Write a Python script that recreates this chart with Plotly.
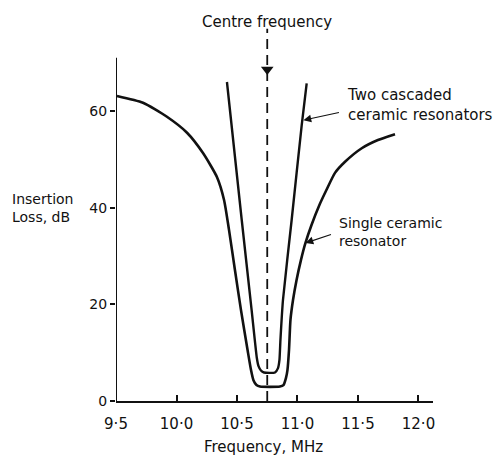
import plotly.graph_objects as go

# Insertion loss of a 10.7 MHz ceramic filter
single_freq = [9.508, 9.723, 9.921, 10.087, 10.219, 10.335, 10.393, 10.434, 10.483, 10.533,
               10.587, 10.616, 10.636, 10.661, 10.690, 10.855, 10.884, 10.905, 10.917, 10.930,
               10.942, 10.963, 10.992, 11.029, 11.066, 11.116, 11.182, 11.240, 11.310, 11.393,
               11.531, 11.665, 11.806]
single_loss = [63.1, 61.7, 58.8, 55.5, 51.3, 46.3, 41.6, 35.4, 27.1, 18.8,
               10.6, 6.4, 4.3, 3.3, 3.0, 3.0, 3.3, 4.8, 6.4, 10.6,
               16.8, 20.9, 25.0, 29.2, 32.7, 36.4, 40.6, 43.7, 47.2, 49.5,
               52.3, 54.0, 55.2]

cascade_freq = [10.417, 10.539, 10.621, 10.664, 10.678, 10.698, 10.723, 10.814, 10.839,
                10.851, 10.859, 10.880, 10.952, 11.035, 11.076]
cascade_loss = [66.0, 37.5, 18.8, 8.9, 7.2, 6.3, 5.9, 5.9, 6.8,
                8.5, 12.6, 20.9, 37.5, 57.1, 65.7]

centre_freq = 10.75

x_ticks = [9.5, 10.0, 10.5, 11.0, 11.5, 12.0]
x_tick_text = ["9·5", "10·0", "10·5", "11·0", "11·5", "12·0"]
y_ticks = [0, 20, 40, 60]
y_tick_text = ["0", "20", "40", "60"]

FONT = "DejaVu Sans"
INK = "#111111"

fig = go.Figure()

fig.add_trace(go.Scatter(x=single_freq, y=single_loss, mode="lines",
                         line=dict(color=INK, width=2.6, shape="spline", smoothing=0.6),
                         hoverinfo="skip"))
fig.add_trace(go.Scatter(x=cascade_freq, y=cascade_loss, mode="lines",
                         line=dict(color=INK, width=2.4, shape="spline", smoothing=0.5),
                         hoverinfo="skip"))

# dashed centre-frequency marker with its arrowhead
fig.add_trace(go.Scatter(x=[centre_freq, centre_freq], y=[0, 77], mode="lines",
                         line=dict(color=INK, width=1.8, dash="10px,6px"),
                         hoverinfo="skip"))
fig.add_trace(go.Scatter(x=[centre_freq], y=[68.6], mode="markers",
                         marker=dict(symbol="triangle-down", size=11, color=INK),
                         hoverinfo="skip"))

# vertical axis line stops short of the top of the plot area
fig.add_shape(type="line", xref="x", yref="y", x0=9.5, x1=9.5, y0=0, y1=71,
              line=dict(color=INK, width=2))

txt = dict(family=FONT, size=14, color=INK)
txt15 = dict(family=FONT, size=15, color=INK)

fig.add_annotation(x=centre_freq, yref="paper", y=1, yshift=2, text="Centre frequency",
                   showarrow=False, xanchor="center", yanchor="middle", font=txt15)
fig.add_annotation(x=11.39, y=61.2, text="Two cascaded<br>ceramic resonators",
                   showarrow=False, xanchor="left", yanchor="middle", align="left", font=txt15)
fig.add_annotation(x=11.33, y=35.0, text="Single ceramic<br>resonator",
                   showarrow=False, xanchor="left", yanchor="middle", align="left", font=txt)
fig.add_annotation(xref="paper", x=0, xshift=-106, y=39.9, text="Insertion<br>Loss, dB",
                   showarrow=False, xanchor="left", yanchor="middle", align="left", font=txt)
fig.add_annotation(x=10.72, yref="paper", y=0, yshift=-46, text="Frequency, MHz",
                   showarrow=False, xanchor="center", yanchor="middle", font=txt15)

# pointer arrows from the labels to the curves
fig.add_annotation(x=11.049, y=58.1, ax=37, ay=-8, text="", showarrow=True,
                   arrowhead=2, arrowsize=1.3, arrowwidth=1.2, arrowcolor=INK)
fig.add_annotation(x=11.066, y=32.7, ax=27, ay=-9, text="", showarrow=True,
                   arrowhead=2, arrowsize=1.3, arrowwidth=1.2, arrowcolor=INK)

fig.update_layout(
    width=498, height=458,
    margin=dict(l=116, r=65, t=24, b=57),
    paper_bgcolor="white", plot_bgcolor="white",
    showlegend=False,
    font=txt,
    xaxis=dict(range=[9.5, 12.12], tickvals=x_ticks, ticktext=x_tick_text,
               ticks="inside", ticklen=6, tickwidth=1.5, tickcolor=INK,
               showline=True, linewidth=2, linecolor=INK,
               showgrid=False, zeroline=False, ticklabelstandoff=8,
               tickfont=dict(family=FONT, size=15, color=INK)),
    yaxis=dict(range=[0, 78], tickvals=y_ticks, ticktext=y_tick_text,
               ticks="outside", ticklen=5, tickwidth=1.5, tickcolor=INK,
               showline=False, showgrid=False, zeroline=False,
               tickfont=dict(family=FONT, size=14, color=INK)),
)

fig.write_html("out.html")
